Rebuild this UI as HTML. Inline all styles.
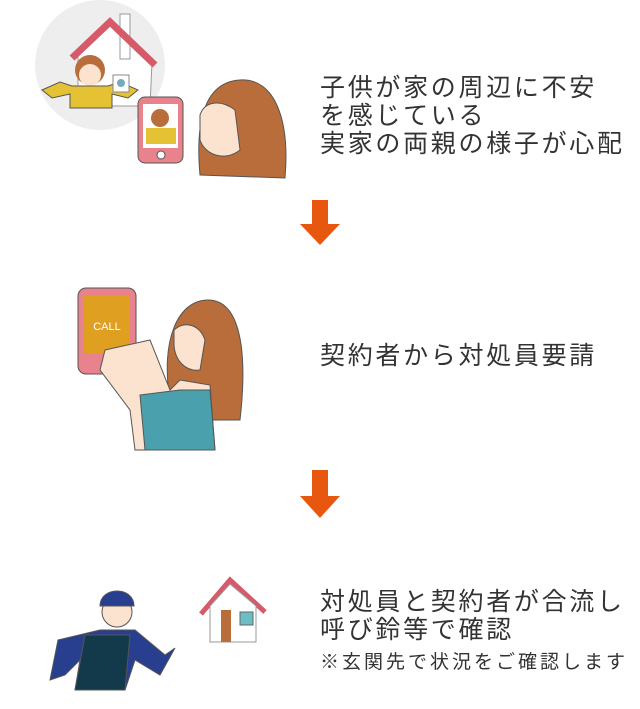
<!DOCTYPE html>
<html><head><meta charset="utf-8"><style>
body{margin:0;width:640px;height:709px;background:#fff;position:relative;overflow:hidden;font-family:"Liberation Sans","Noto Sans CJK JP",sans-serif;color:#333}
.t{position:absolute;left:320px;font-size:25px;letter-spacing:2.7px;line-height:28px;white-space:nowrap}
svg{position:absolute;left:0;top:0}
</style></head><body>
<svg width="640" height="709">
<circle cx="100" cy="65" r="65" fill="#eeeeee"/>
<polygon points="78,55 110,25 152,62 150,106 78,106" fill="#fff" stroke="#999"/>
<rect x="120" y="14" width="10" height="45" fill="#fff" stroke="#999"/>
<polyline points="72,58 110,22 155,65" fill="none" stroke="#d55a6a" stroke-width="7"/>
<circle cx="90" cy="70" r="15" fill="#b86d3b"/><circle cx="90" cy="75" r="11" fill="#fbe3cf"/>
<path d="M42,90 L60,82 L72,86 L108,86 L120,82 L138,90 L128,98 L112,94 L112,108 L70,108 L70,94 L52,98Z" fill="#e4c234" stroke="#555"/>
<rect x="113" y="75" width="16" height="17" fill="#fff" stroke="#888"/><circle cx="121" cy="83" r="4" fill="#7ab" />
<rect x="138" y="97" width="45" height="66" rx="7" fill="#e8828c" stroke="#555"/>
<rect x="143" y="104" width="35" height="44" fill="#fff"/>
<circle cx="160" cy="118" r="9" fill="#b86d3b"/><rect x="146" y="128" width="30" height="16" fill="#e4c234"/>
<circle cx="161" cy="155" r="4" fill="#fff" stroke="#555"/>
<path d="M200,175 C195,120 205,82 240,80 C275,78 290,120 285,178Z" fill="#b86d3b" stroke="#555"/>
<path d="M200,115 C205,100 222,100 235,110 L240,150 C225,162 205,155 200,140Z" fill="#fbe3cf" stroke="#555"/>
<polygon points="312,200 328,200 328,224 340,224 320,245 300,224 312,224" fill="#e8570f"/>
<rect x="78" y="288" width="58" height="86" rx="8" fill="#e8828c" stroke="#555"/>
<rect x="84" y="296" width="46" height="58" fill="#dfa021"/>
<text x="107" y="330" font-size="11" fill="#fff" text-anchor="middle" font-family="Liberation Sans">CALL</text>
<path d="M170,400 C160,340 178,300 208,300 C240,300 248,350 240,420 L210,420Z" fill="#b86d3b" stroke="#555"/>
<path d="M174,330 C185,320 200,325 205,340 L200,370 C185,372 175,360 174,345Z" fill="#fbe3cf" stroke="#555"/>
<path d="M105,350 L150,340 L170,390 L180,380 L210,385 L215,450 L135,450 L130,410 L100,370Z" fill="#fbe3cf" stroke="#555"/>
<path d="M140,395 L180,390 L210,390 L215,450 L145,450 Z" fill="#4aa1ad" stroke="#555"/>
<polygon points="312,470 328,470 328,496 340,496 320,518 300,496 312,496" fill="#e8570f"/>
<circle cx="117" cy="612" r="15" fill="#fbe3cf" stroke="#555"/>
<path d="M100,606 C100,586 134,586 134,606Z" fill="#283f8f" stroke="#555"/>
<path d="M58,640 L100,630 L135,630 L165,655 L175,648 L160,675 L135,660 L125,690 L75,690 L80,660 L65,675 L50,680Z" fill="#283f8f" stroke="#555"/>
<path d="M85,635 L130,635 L125,690 L75,690Z" fill="#123a4a" stroke="#555"/>
<polyline points="201,614 230,580 265,612" fill="none" stroke="#d55a6a" stroke-width="5"/>
<polygon points="210,606 230,584 256,606 256,642 210,642" fill="#fff" stroke="#999"/>
<rect x="221" y="610" width="10" height="32" fill="#b86d3b"/>
<rect x="240" y="612" width="13" height="13" fill="#6bbec6" stroke="#666"/>
</svg>
<div class="t" style="top:74px">子供が家の周辺に不安<br>を感じている<br>実家の両親の様子が心配</div>
<div class="t" style="top:342px">契約者から対処員要請</div>
<div class="t" style="top:588px">対処員と契約者が合流し<br>呼び鈴等で確認</div>
<div class="t" style="top:649px;font-size:19px;letter-spacing:3px">※玄関先で状況をご確認します</div>
</body></html>
